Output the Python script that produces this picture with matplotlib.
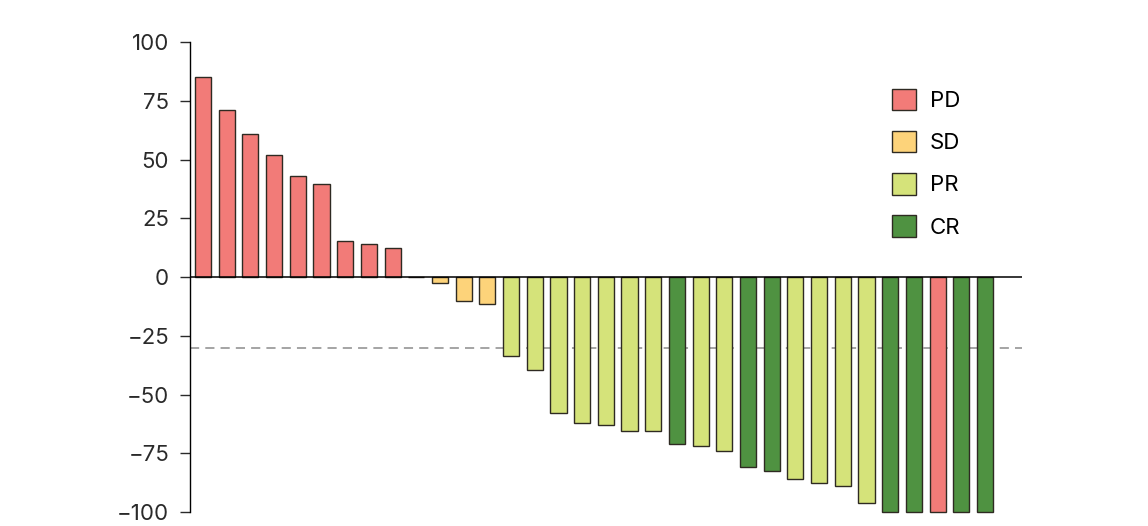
import numpy as np
import matplotlib
matplotlib.use('Agg')
from matplotlib import pyplot as plt
from matplotlib.patches import Patch

plt.rcParams['font.family'] = ['Inter', 'DejaVu Sans']

# best change from baseline (%) per patient, sorted
values = [85, 71, 61, 52, 43, 39.5, 15.5, 14, 12.5,
          0,
          -2.5, -10, -11.5,
          -33.5, -39.5, -58, -62, -63, -65.5, -65.5, -71, -72, -74,
          -81, -82.5, -86, -87.5, -89, -96,
          -100, -100, -100, -100, -100]
responses = ['PD'] * 9 + ['SD'] * 4 + ['PR'] * 7 + ['CR', 'PR', 'PR', 'CR', 'CR',
             'PR', 'PR', 'PR', 'PR', 'CR', 'CR', 'PD', 'CR', 'CR']
categories = ['PD', 'SD', 'PR', 'CR']
colors = {'PD': '#F27B78', 'SD': '#FDD37A', 'PR': '#D5E37A', 'CR': '#4F9241'}
yticks = [100, 75, 50, 25, 0, -25, -50, -75, -100]

fig = plt.figure(figsize=(11.48, 5.26), dpi=100)
ax = fig.add_axes([0.1655, 0.0266, 0.7245, 0.8935])

x = np.arange(len(values))
bars = ax.bar(x, values, width=0.68, color=[colors[r] for r in responses],
              edgecolor='#2e2a22', linewidth=1.0, zorder=3)
for b in bars:
    b.set_clip_on(False)

ax.axhline(0, color='black', linewidth=1.1, zorder=4)
ax.axhline(-30, color='#8c8c8c', linewidth=1.1, linestyle=(0, (6, 4)), zorder=2)

ax.set_xlim(-0.55, 34.55)
ax.set_ylim(-100, 100)
ax.set_yticks(yticks)
ax.set_yticklabels([f'{t}'.replace('-', '\u2212') for t in yticks])
ax.tick_params(axis='y', labelsize=16, length=7, width=1, pad=8, colors='#2a2a2a')
ax.set_xticks([])
for s in ['top', 'right', 'bottom']:
    ax.spines[s].set_visible(False)
ax.spines['left'].set_linewidth(1)

handles = [Patch(facecolor=colors[c], edgecolor='#2e2a22', linewidth=1, label=c)
           for c in categories]
ax.legend(handles=handles, loc='upper left', bbox_to_anchor=(0.82, 0.943),
          frameon=False, fontsize=16, handlelength=1.1, handleheight=1.1,
          labelspacing=0.9, handletextpad=0.6)

fig.savefig('out.png', dpi=100)
